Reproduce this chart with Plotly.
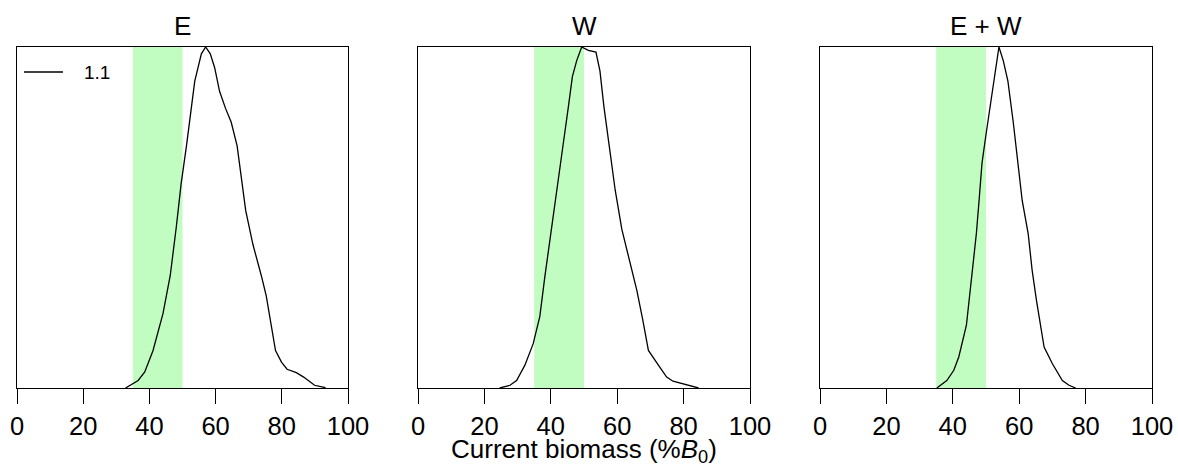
import plotly.graph_objects as go

# Posterior density of current biomass (%B0) for each stock, scaled so the peak = 1
e_x = [32.8, 36.6, 38.6, 41.1, 44.1, 46.3, 48.1, 49.6, 51.2, 53.7, 55.7, 57.0, 58.4, 59.7,
       61.2, 63.0, 64.7, 66.5, 69.1, 71.3, 73.8, 75.3, 78.1, 79.9, 81.6, 84.4, 86.6, 89.9, 93.2]
e_y = [0.0, 0.022, 0.047, 0.11, 0.218, 0.33, 0.47, 0.60, 0.71, 0.90, 0.98, 1.0, 0.98, 0.94,
       0.87, 0.82, 0.78, 0.71, 0.52, 0.42, 0.33, 0.27, 0.11, 0.076, 0.055, 0.045, 0.032, 0.008, 0.001]

w_x = [24.6, 27.7, 29.7, 32.2, 34.7, 36.7, 38.2, 39.2, 41.2, 43.8, 45.3, 46.5, 47.8, 49.3, 51.3,
       53.6, 54.8, 56.0, 57.6, 59.4, 61.4, 63.9, 65.9, 67.7, 69.4, 72.4, 74.9, 76.8, 79.5, 82.0, 84.5]
w_y = [0.0, 0.008, 0.022, 0.067, 0.13, 0.21, 0.326, 0.394, 0.53, 0.72, 0.825, 0.913, 0.96, 1.0, 0.99,
       0.985, 0.93, 0.825, 0.71, 0.58, 0.465, 0.365, 0.287, 0.2, 0.11, 0.067, 0.032, 0.02, 0.013, 0.005, 0.0]

ew_x = [35.2, 38.2, 40.3, 41.8, 44.1, 45.8, 47.1, 48.0, 48.8, 50.1, 51.3, 52.6, 53.9, 55.2,
        56.6, 58.2, 59.4, 60.9, 62.7, 63.9, 65.2, 67.5, 70.0, 73.0, 75.0, 77.0]
ew_y = [0.0, 0.022, 0.052, 0.091, 0.184, 0.326, 0.453, 0.56, 0.66, 0.75, 0.825, 0.92, 1.0, 0.96,
        0.90, 0.78, 0.67, 0.55, 0.453, 0.345, 0.257, 0.12, 0.071, 0.022, 0.008, 0.0]

panel_titles = ["E", "W", "E + W"]
run_label = "1.1"
target_lo, target_hi = 35, 50          # shaded target range (%B0)
x_ticks = [0, 20, 40, 60, 80, 100]

W, H = 1178, 466
FONT = "Liberation Sans, Arial, sans-serif"
domains = [(17 / W, 348 / W), (418 / W, 750 / W), (820 / W, 1152 / W)]
y_dom = (1 - 388 / H, 1 - 47 / H)

fig = go.Figure()
series = [(e_x, e_y), (w_x, w_y), (ew_x, ew_y)]
for i, (xs, ys) in enumerate(series):
    ax = "" if i == 0 else str(i + 1)
    fig.add_trace(go.Scatter(
        x=xs, y=ys, mode="lines", name=run_label, showlegend=False,
        line=dict(color="black", width=1.3),
        xaxis="x" + ax, yaxis="y" + ax,
    ))
    fig.add_shape(type="rect", xref="x" + ax, yref=f"y{ax} domain",
                  x0=target_lo, x1=target_hi, y0=0, y1=1,
                  fillcolor="#c1fdc1", line=dict(width=0), layer="below")
    xa = dict(domain=domains[i], range=[0, 100], tickvals=x_ticks,
              ticks="outside", ticklen=15, tickwidth=1.3, tickcolor="black",
              showline=True, linecolor="black", linewidth=1.3, mirror=True,
              showgrid=False, zeroline=False, automargin=False,
              tickfont=dict(family=FONT, size=25.5, color="black"),
              anchor="y" + ax)
    ya = dict(domain=y_dom, range=[0, 1.0], showticklabels=False, ticks="",
              showline=True, linecolor="black", linewidth=1.3, mirror=True,
              showgrid=False, zeroline=False, automargin=False, anchor="x" + ax)
    fig.update_layout(**{"xaxis" + ax: xa, "yaxis" + ax: ya})
    fig.add_annotation(text=panel_titles[i], x=(domains[i][0] + domains[i][1]) / 2,
                       y=1 - 26 / H, xref="paper", yref="paper",
                       xanchor="center", yanchor="middle", showarrow=False,
                       font=dict(family=FONT, size=26, color="black"))

# Legend key for the model run (first panel)
fig.add_shape(type="line", xref="paper", yref="paper",
              x0=24 / W, x1=63 / W, y0=1 - 72 / H, y1=1 - 72 / H,
              line=dict(color="black", width=1.3))
fig.add_annotation(text=run_label, x=82 / W, y=1 - 73 / H, xref="paper", yref="paper",
                   xanchor="left", yanchor="middle", showarrow=False,
                   font=dict(family=FONT, size=19, color="black"))

fig.add_annotation(text="Current biomass (%<i>B</i><sub>0</sub>)",
                   x=(domains[1][0] + domains[1][1]) / 2, y=1 - 450 / H,
                   xref="paper", yref="paper", xanchor="center", yanchor="middle",
                   showarrow=False, font=dict(family=FONT, size=26, color="black"))

fig.update_layout(
    width=W, height=H, margin=dict(l=0, r=0, t=0, b=0),
    plot_bgcolor="white", paper_bgcolor="white",
    showlegend=False,
)

fig.write_html("out.html")
